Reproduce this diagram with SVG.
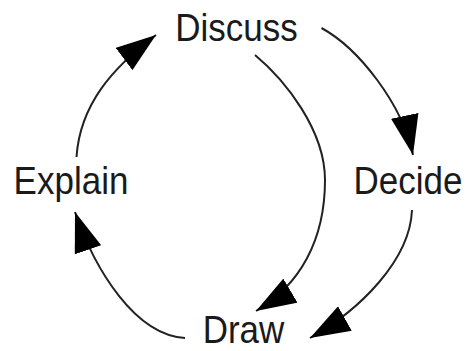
<svg xmlns="http://www.w3.org/2000/svg" width="466" height="351" viewBox="0 0 466 351">
  <style>
    .lbl { font-family: "Liberation Sans", Arial, sans-serif; font-size: 35px; fill: #1a1a1a; text-anchor: middle; }
    .edge { fill: none; stroke: #222; stroke-width: 2; marker-end: url(#ah); }
  </style>
  <defs>
    <marker id="ah" markerUnits="userSpaceOnUse" markerWidth="40" markerHeight="28" viewBox="0 0 40 28" refX="40" refY="14" orient="auto">
      <path d="M0,0 L40,14 L0,28 z" fill="#000"/>
    </marker>
  </defs>
  <rect width="466" height="351" fill="#fff"/>
  <g id="connectors">
    <path class="edge" d="M76.5,157 C80,105 112,68 156,35"/>
    <path class="edge" d="M321.5,28 C358,48 402,103 413,155"/>
    <path class="edge" d="M412,210 C410,260 360,310 310,338"/>
    <path class="edge" d="M185,338 C135,335 95,270 75,212"/>
    <path class="edge" d="M255,55 C285,80 325,130 325,180 C325,240 300,285 256,311"/>
  </g>
  <g id="discuss"><text class="lbl" transform="translate(236.5,40.5) scale(1,1.1)">Discuss</text></g>
  <g id="decide"><text class="lbl" transform="translate(408,194) scale(1,1.1)">Decide</text></g>
  <g id="draw"><text class="lbl" transform="translate(243.5,343) scale(1,1.1)">Draw</text></g>
  <g id="explain"><text class="lbl" transform="translate(71,194) scale(1,1.1)">Explain</text></g>
</svg>
